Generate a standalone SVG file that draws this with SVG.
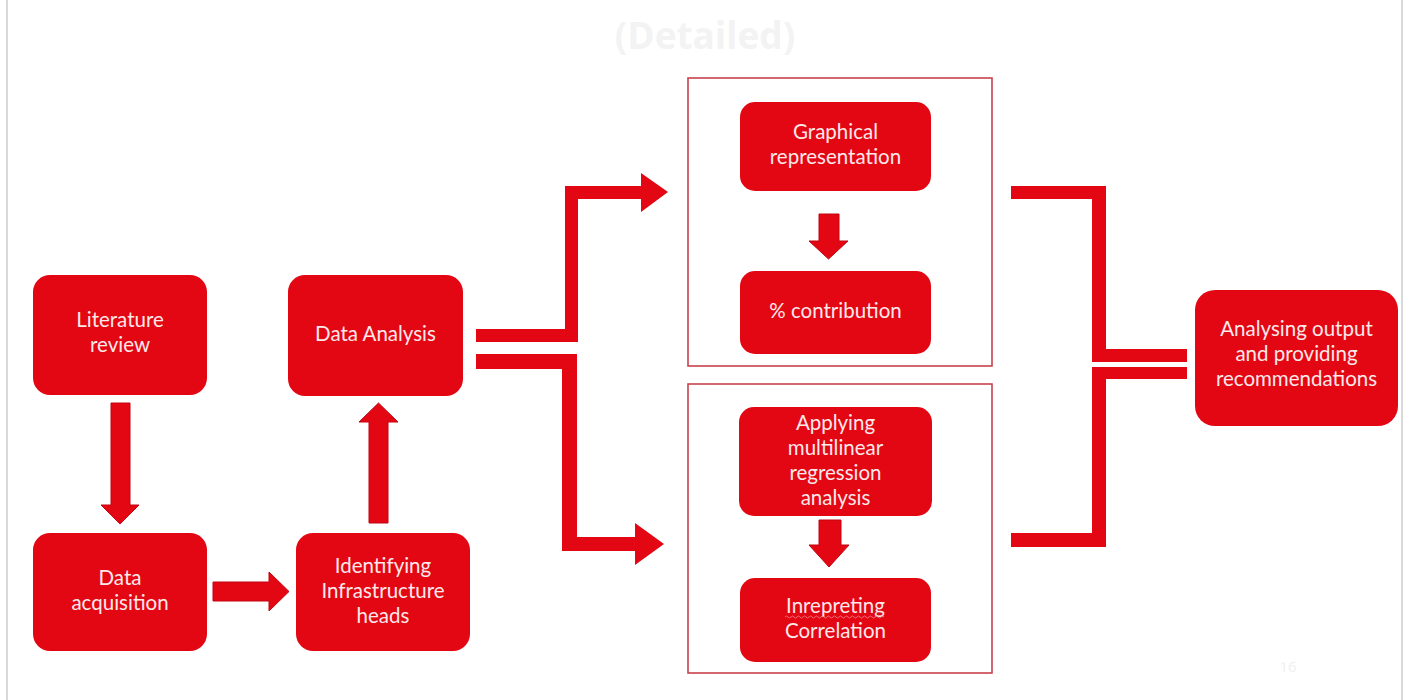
<svg xmlns="http://www.w3.org/2000/svg" width="1408" height="700" viewBox="0 0 1408 700">
<style>
.box{fill:#e30613;}
.grp{fill:none;stroke:#c8424c;stroke-width:1.6;}
.t{font-family:Lato,"Open Sans",sans-serif;font-size:20.5px;fill:#fde8ea;text-anchor:middle;}
.conn{fill:#e30613;}
.blk{fill:#e30613;stroke:#c20510;stroke-width:1;}
.page{stroke:#d0d0d0;stroke-width:1.6;}
</style>
<rect x="0" y="0" width="1408" height="700" fill="#ffffff"/>
<line class="page" x1="7" y1="0" x2="7" y2="700"/>
<line class="page" x1="1402" y1="0" x2="1402" y2="700"/>
<text x="705" y="49" font-family="'Open Sans','Noto Sans',sans-serif" font-size="37" font-weight="bold" fill="#f3f3f3" text-anchor="middle">(Detailed)</text>
<text x="1288" y="672" font-family="'Open Sans','Noto Sans',sans-serif" font-size="15" fill="#efefef" text-anchor="middle">16</text>

<rect id="group-top" class="grp" x="688" y="78" width="304" height="288"/>
<rect id="group-bottom" class="grp" x="688" y="384" width="304" height="289"/>

<g id="connectors">
<polygon class="conn" points="476,329 565,329 565,186 641,186 641,173 668,192 641,212 641,199 578,199 578,342 476,342"/>
<polygon class="conn" points="476,354 577,354 577,537 635,537 635,523 664,544 635,565 635,551 562,551 562,369 476,369"/>
<polygon class="conn" points="1011,186 1106,186 1106,349 1187,349 1187,362 1092,362 1092,199 1011,199"/>
<polygon class="conn" points="1092,367 1187,367 1187,379 1106,379 1106,547 1011,547 1011,533 1092,533"/>
<polygon class="blk" points="111,403 130,403 130,505 139,505 120,524 101,505 111,505"/>
<polygon class="blk" points="213,582 269,582 269,572 289,591.5 269,611 269,601 213,601"/>
<polygon class="blk" points="369,523 388,523 388,422 398,422 378.5,403 359,422 369,422"/>
<polygon class="blk" points="819,214 839,214 839,241 848,241 828.5,259 809,241 819,241"/>
<polygon class="blk" points="819,520 841,520 841,545 849,545 829,567 809,545 819,545"/>
</g>

<g id="literature-review">
<rect class="box" x="33" y="275" width="174" height="120" rx="17"/>
<text class="t" x="120" y="327">Literature</text>
<text class="t" x="120" y="352">review</text>
</g>
<g id="data-acquisition">
<rect class="box" x="33" y="533" width="174" height="118" rx="17"/>
<text class="t" x="120" y="585">Data</text>
<text class="t" x="120" y="610">acquisition</text>
</g>
<g id="identifying">
<rect class="box" x="296" y="533" width="174" height="118" rx="17"/>
<text class="t" x="383" y="573">Identifying</text>
<text class="t" x="383" y="598">Infrastructure</text>
<text class="t" x="383" y="623">heads</text>
</g>
<g id="data-analysis">
<rect class="box" x="288" y="275" width="175" height="121" rx="17"/>
<text class="t" x="375.5" y="341">Data Analysis</text>
</g>
<g id="graphical">
<rect class="box" x="740" y="102" width="191" height="89" rx="15"/>
<text class="t" x="835.5" y="139">Graphical</text>
<text class="t" x="835.5" y="164">representation</text>
</g>
<g id="contribution">
<rect class="box" x="740" y="271" width="191" height="83" rx="15"/>
<text class="t" x="835.5" y="318">% contribution</text>
</g>
<g id="applying">
<rect class="box" x="739" y="407" width="193" height="109" rx="15"/>
<text class="t" x="835.5" y="430">Applying</text>
<text class="t" x="835.5" y="455">multilinear</text>
<text class="t" x="835.5" y="480">regression</text>
<text class="t" x="835.5" y="505">analysis</text>
</g>
<g id="interpreting">
<rect class="box" x="740" y="578" width="191" height="84" rx="15"/>
<text class="t" x="835.5" y="613">Inrepreting</text>
<path d="M785,617 q1.5,-2 3,0 t3,0 t3,0 t3,0 t3,0 t3,0 t3,0 t3,0 t3,0 t3,0 t3,0 t3,0 t3,0 t3,0 t3,0 t3,0 t3,0 t3,0 t3,0 t3,0 t3,0 t3,0 t3,0 t3,0 t3,0 t3,0 t3,0 t3,0 t3,0 t3,0 t3,0 t3,0 t3,0" fill="none" stroke="#f08a90" stroke-width="0.8"/>
<text class="t" x="835.5" y="638">Correlation</text>
</g>
<g id="analysing-output">
<rect class="box" x="1195" y="290" width="203" height="136" rx="20"/>
<text class="t" x="1296.5" y="336">Analysing output</text>
<text class="t" x="1296.5" y="361">and providing</text>
<text class="t" x="1296.5" y="386">recommendations</text>
</g>
</svg>
